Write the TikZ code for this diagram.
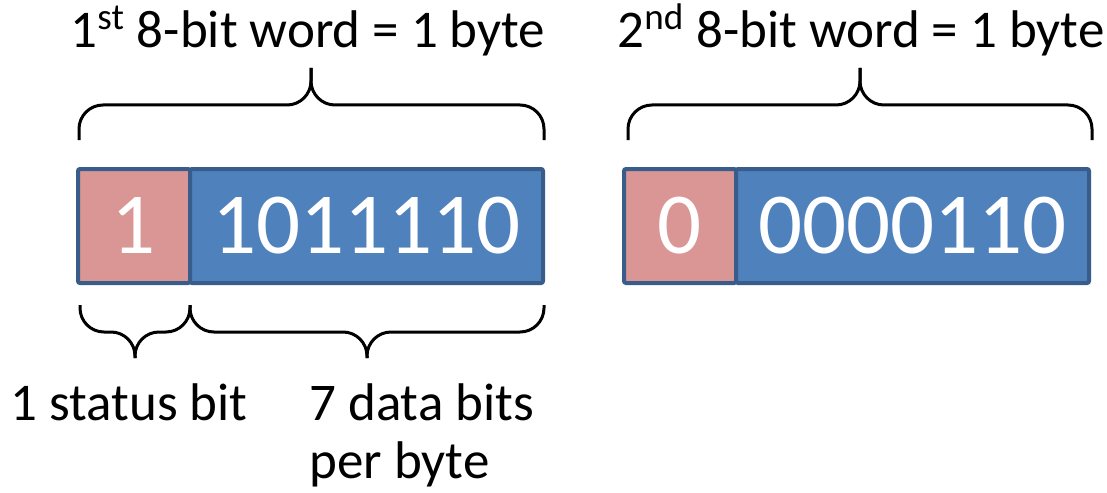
\documentclass[tikz,border=0pt]{standalone}
\usepackage{fontspec}
\setmainfont{Carlito}
\usetikzlibrary{positioning}
\definecolor{statusred}{HTML}{D99694}
\definecolor{datablue}{HTML}{4F81BD}
\definecolor{edgeblue}{HTML}{385D8A}
\begin{document}
\begin{tikzpicture}[x=0.5pt,y=-0.5pt,
	bitcell/.style={draw=edgeblue,line width=2pt,rounded corners=1pt,outer sep=0pt,inner sep=0pt,minimum height=57pt,text=white,font=\fontsize{43.5}{43.5}\selectfont},
	statuscell/.style={bitcell,fill=statusred,minimum width=56pt},
	datacell/.style={bitcell,fill=datablue,minimum width=176.5pt},
	bitlabel/.style={font=\fontsize{26.5}{29}\selectfont,inner sep=0pt},
	wordbrace/.style={line width=1.5pt,rounded corners=12pt}]
	\useasboundingbox (0,0) rectangle (1107,492);
	% the two bytes
	\node[statuscell,anchor=north west] (status1) at (78,169) {1};
	\node[datacell,right=0pt of status1] (data1) {1011110};
	\node[statuscell,anchor=north west] (status2) at (624,169) {0};
	\node[datacell,right=0pt of status2] (data2) {0000110};
	% braces above
	\coordinate (tip1) at (311,68);
	\coordinate (tip2) at (860,68);
	\draw[wordbrace] (79,140) -- (79,105) -| (tip1);
	\draw[wordbrace] (544,140) -- (544,105) -| (tip1);
	\draw[wordbrace] (628,140) -- (628,105) -| (tip2);
	\draw[wordbrace] (1092,140) -- (1092,105) -| (tip2);
	\node[bitlabel,anchor=base] (word1) at (308,48) {1\textsuperscript{st} 8-bit word = 1 byte};
	\node[bitlabel,anchor=base] (word2) at (861,48) {2\textsuperscript{nd} 8-bit word = 1 byte};
	% braces below
	\coordinate (tip3) at (135,358);
	\coordinate (tip4) at (367,358);
	\draw[wordbrace] (80,305) -- (80,332) -| (tip3);
	\draw[wordbrace] (190,305) -- (190,332) -| (tip3);
	\draw[wordbrace] (190,305) -- (190,332) -| (tip4);
	\draw[wordbrace] (544,305) -- (544,332) -| (tip4);
	\node[bitlabel,anchor=base] (status) at (129,420) {1 status bit};
	\node[bitlabel,anchor=base west,align=left] (data) at (309,478) {7 data bits\\per byte};
\end{tikzpicture}
\end{document}
